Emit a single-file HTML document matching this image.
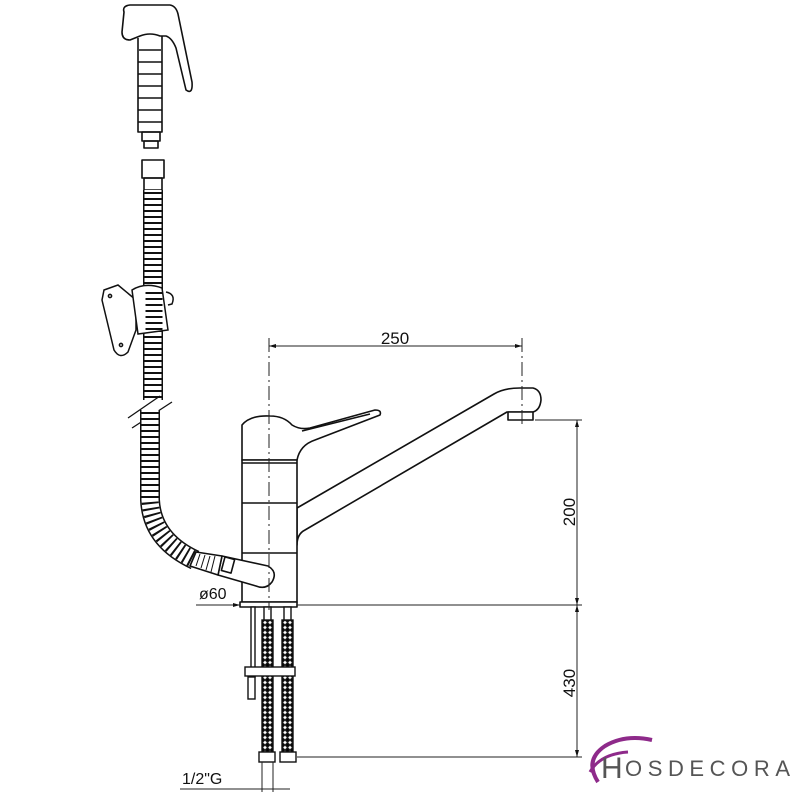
<!DOCTYPE html>
<html><head><meta charset="utf-8"><style>
html,body{margin:0;padding:0;background:#fff;}
svg{display:block;}
text{font-family:"Liberation Sans",sans-serif;fill:#111;}
</style></head><body>
<svg width="800" height="800" viewBox="0 0 800 800" xmlns="http://www.w3.org/2000/svg">
<defs>
<pattern id="braid" width="10" height="5" patternUnits="userSpaceOnUse">
<rect width="10" height="5" fill="#fff"/>
<path d="M0 0 L5 5 L10 0 M0 5 L5 0 L10 5" stroke="#222" stroke-width="1"/>
</pattern>
</defs>
<g fill="none" stroke="#111" stroke-width="1.6" stroke-linejoin="round">
<!-- shower head -->
<path d="M124 12 Q122 6 130 5 L170 5 Q176 6 178 14 L192 82 Q193 95 186 90 L176 48 Q172 38 166 36 L160 36 Q150 32 140 36 L130 40 Q122 40 122 32 Z"/>
<path d="M138 38 L138 132 L162 132 L162 36"/>
<path d="M139 50 H161 M138 62 H162 M138 74 H162 M138 86 H162 M138 98 H162 M138 110 H162 M138 122 H162"/>
<rect x="142" y="132" width="18" height="9"/>
<rect x="144" y="141" width="14" height="7"/>
<rect x="142" y="160" width="22" height="18"/>
<rect x="144" y="178" width="18" height="12"/>
</g>
<!-- hose upper -->
<path d="M153 190 V400" stroke="#111" stroke-width="20" fill="none"/>
<path d="M153 190 V400" stroke="#fff" stroke-width="17" fill="none"/>
<path d="M153 192 V400" stroke="#111" stroke-width="17" stroke-dasharray="2,4" fill="none"/>
<!-- break marks -->
<g stroke="#111" stroke-width="1.3">
<line x1="128" y1="418" x2="160" y2="396"/>
<line x1="132" y1="428" x2="172" y2="402"/>
</g>
<!-- hose lower -->
<path d="M150 410 L150 500 Q152 540 195 560" fill="none" stroke="#111" stroke-width="20"/>
<path d="M150 410 L150 500 Q152 540 195 560" fill="none" stroke="#fff" stroke-width="17"/>
<path d="M150 412 L150 500 Q152 540 195 560" fill="none" stroke="#111" stroke-width="17" stroke-dasharray="2,4"/>
<!-- bracket -->
<g fill="#fff" stroke="#111" stroke-width="1.5">
<path d="M104 290 L118 285 L136 300 L136 330 L128 352 Q120 360 114 350 L102 300 Z"/>
<path d="M132 290 Q145 282 162 288 L168 330 L138 334 Z"/>
<path d="M166 292 Q176 294 172 304 L168 305"/>
<circle cx="110" cy="296" r="1.6"/><circle cx="121" cy="345" r="1.6"/>
</g>
<path d="M154 292 V332" stroke="#111" stroke-width="17" stroke-dasharray="2,4" fill="none"/>
<!-- tap -->
<g fill="#fff" stroke="#111" stroke-width="1.6" stroke-linejoin="round">
<path d="M297 508 L494 394 Q504 388 520 388 L533 388 Q541 390 541 400 Q540 410 533 412 L507 412 L305 530 Q297 534 297 545 Z"/>
<rect x="508" y="412" width="25" height="8"/>
<path d="M242 460 L242 425 Q250 415 270 416 Q284 416 292 425 Q300 430 310 428 L375 410 Q382 410 380 415 L315 440 Q300 445 297 460 Z"/>
<line x1="302" y1="431" x2="370" y2="414"/>
<rect x="242" y="460" width="55" height="142"/>
<line x1="242" y1="463" x2="297" y2="463"/>
<line x1="242" y1="503" x2="297" y2="503"/>
<line x1="242" y1="553" x2="297" y2="553"/>
<rect x="240" y="602" width="57" height="5"/>
<path d="M222 556 L268 566 Q278 572 272 582 Q266 590 256 586 L218 575 Z"/>
<rect x="223" y="558" width="10" height="14" transform="rotate(15 228 565)"/>
<path d="M196 552 L222 556 L218 575 L190 566 Z"/>
<path d="M200 554 L196 566 M205 555 L201 568 M210 556 L206 570 M215 556 L211 572" stroke-width="1"/>
</g>
<!-- under pipes -->
<g stroke="#111" stroke-width="1.4" fill="#fff">
<rect x="251" y="607" width="4" height="70"/>
<rect x="248" y="677" width="7" height="22"/>
<rect x="262" y="620" width="11" height="132" fill="url(#braid)"/>
<rect x="282" y="620" width="11" height="132" fill="url(#braid)"/>
<rect x="264" y="607" width="7" height="13"/>
<rect x="284" y="607" width="7" height="13"/>
<rect x="245" y="667" width="50" height="9"/>
<rect x="259" y="752" width="16" height="10"/>
<rect x="280" y="752" width="16" height="10"/>
</g>
<!-- dimension lines -->
<g stroke="#222" stroke-width="1" fill="none">
<line x1="269" y1="338" x2="269" y2="610" stroke-dasharray="14,4,2,4"/>
<line x1="269" y1="346" x2="522" y2="346"/>
<line x1="522" y1="338" x2="522" y2="425" stroke-dasharray="14,4,2,4"/>
<line x1="535" y1="420" x2="582" y2="420"/>
<line x1="577" y1="420" x2="577" y2="757"/>
<line x1="297" y1="605" x2="582" y2="605"/>
<line x1="297" y1="757" x2="582" y2="757"/>
<line x1="196" y1="605" x2="240" y2="605"/>
<line x1="262" y1="762" x2="262" y2="792"/>
<line x1="273" y1="762" x2="273" y2="792"/>
<line x1="180" y1="789" x2="290" y2="789"/>
</g>
<g fill="#111">
<path d="M269 346 l7 -2 v4z M522 346 l-7 -2 v4z M577 420 l-2 7 h4z M577 605 l-2 -7 h4z M577 605 l-2 7 h4z M577 757 l-2 -7 h4z M240 605 l-7 -2 v4z"/>
</g>
<text x="395" y="344" font-size="17" text-anchor="middle">250</text>
<text x="0" y="0" font-size="17" text-anchor="middle" transform="translate(575 512) rotate(-90)">200</text>
<text x="0" y="0" font-size="17" text-anchor="middle" transform="translate(575 683) rotate(-90)">430</text>
<text x="199" y="599" font-size="16">ø60</text>
<text x="182" y="784" font-size="16">1/2"G</text>
<!-- logo -->
<path d="M598 782 Q584 760 605 746 Q625 734 652 740" fill="none" stroke="#8e2a8a" stroke-width="4"/>
<path d="M590 772 Q600 754 628 752" fill="none" stroke="#8e2a8a" stroke-width="3"/>
<text x="601" y="778" font-size="30" style="fill:#555">H</text>
<text x="625" y="776" font-size="22" textLength="165" lengthAdjust="spacing" style="fill:#555">OSDECORA</text>
</svg>
</body></html>
